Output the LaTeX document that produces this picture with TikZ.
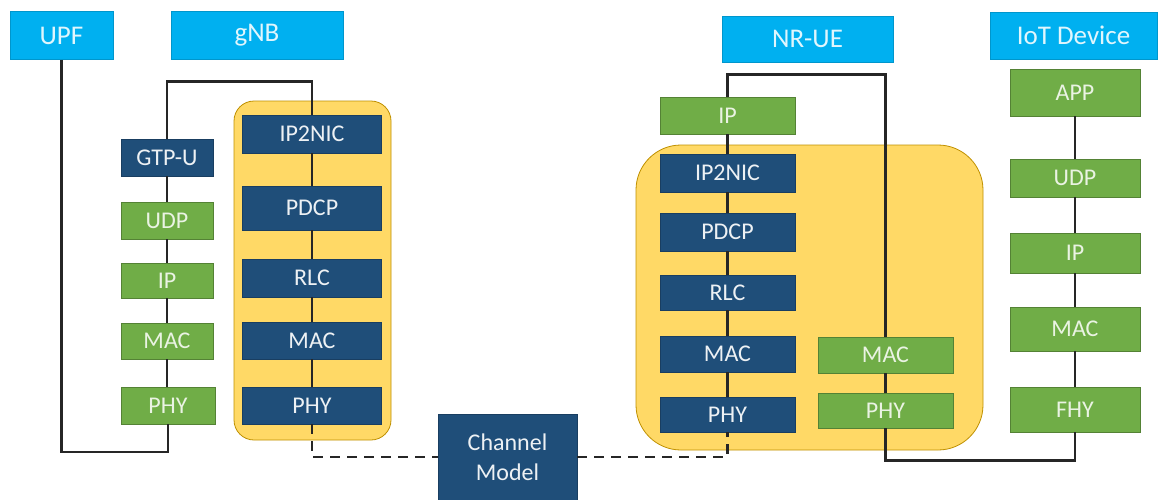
\documentclass[tikz,border=0pt]{standalone}
\usepackage{fontspec}
\setmainfont{Carlito}
\usetikzlibrary{positioning, calc}
\definecolor{skyhead}{RGB}{0,176,240}
\definecolor{navylayer}{RGB}{31,78,121}
\definecolor{greenlayer}{RGB}{112,173,71}
\definecolor{zonefill}{RGB}{255,217,102}
\definecolor{zoneline}{RGB}{191,144,0}

\begin{document}
\begin{tikzpicture}[
    x=1pt, y=-1pt,
    head/.style={draw=skyhead!85!black, line width=0.6pt, fill=skyhead, minimum height=48pt, inner sep=0pt, text=white!88!skyhead, font=\fontsize{27}{29}\selectfont},
    layer/.style={line width=0.6pt, minimum height=37pt, inner sep=0pt, font=\fontsize{24}{30}\selectfont, align=center},
    core/.style={layer, fill=navylayer, draw=navylayer!80!black, text=white!92!navylayer},
    lite/.style={layer, fill=greenlayer, draw=greenlayer!75!black, text=white!85!greenlayer},
    zone/.style={draw=zoneline, line width=0.8pt, fill=zonefill, inner sep=0pt},
    link/.style={line width=2.6pt, black!85},
    radio/.style={link, dash pattern=on 10pt off 7pt}
]
\useasboundingbox (0,0) rectangle (1160,499);

% Yellow zones
\node[zone, rounded corners=20pt, minimum width=157pt, minimum height=339pt] (gnbzone) at (312.5,270.5) {};
\node[zone, rounded corners=45pt, minimum width=347pt, minimum height=305pt] (uezone) at (809.5,297.5) {};

% Headers
\node[head, minimum width=103pt] (upf) at (61.5,35.5) {UPF};
\node[head, minimum width=172pt] (gnb) at (257,35.5) {gNB};
\node[head, minimum width=171pt, minimum height=46pt] (nrue) at (807.5,39) {NR-UE};
\node[head, minimum width=167pt, minimum height=47pt] (iot) at (1073.5,35.5) {IoT Device};

% UPF side stack
\node[core, minimum width=92pt] (gtpu) at (167,157.5) {GTP-U};
\node[lite, minimum width=92pt] (udpL) at (167,220.5) {UDP};
\node[lite, minimum width=92pt, minimum height=35pt] (ipL) at (167,280.5) {IP};
\node[lite, minimum width=92pt, minimum height=36pt] (macL) at (167,341) {MAC};
\node[lite, minimum width=94pt] (phyL) at (168,405.5) {PHY};

% gNB stack
\node[core, minimum width=139pt, minimum height=38pt] (ip2nicG) at (312,134) {IP2NIC};
\node[core, minimum width=139pt, minimum height=44pt] (pdcpG) at (312,208) {PDCP};
\node[core, minimum width=139pt, minimum height=38pt] (rlcG) at (312,278) {RLC};
\node[core, minimum width=139pt] (macG) at (312,340.5) {MAC};
\node[core, minimum width=139pt] (phyG) at (312,405.5) {PHY};

% Channel
\node[core, minimum width=139pt, minimum height=86pt] (chan) at (507.5,457) {Channel\\Model};

% NR-UE stack
\node[lite, minimum width=135pt] (ipN) at (727.5,115.5) {IP};
\node[core, minimum width=135pt, minimum height=38pt] (ip2nicN) at (727.5,173) {IP2NIC};
\node[core, minimum width=135pt, minimum height=38pt] (pdcpN) at (727.5,232) {PDCP};
\node[core, minimum width=135pt, minimum height=35pt] (rlcN) at (727.5,292.5) {RLC};
\node[core, minimum width=135pt, minimum height=36pt] (macN) at (727.5,354) {MAC};
\node[core, minimum width=135pt, minimum height=35pt] (phyN) at (727.5,414.5) {PHY};
\node[lite, minimum width=135pt, minimum height=36pt] (macN2) at (885.5,355) {MAC};
\node[lite, minimum width=135pt, minimum height=35pt] (phyN2) at (885.5,410.5) {PHY};

% IoT stack
\node[lite, minimum width=130pt, minimum height=47pt] (app) at (1075,92.5) {APP};
\node[lite, minimum width=130pt, minimum height=38pt] (udpI) at (1075,178) {UDP};
\node[lite, minimum width=130pt, minimum height=40pt] (ipI) at (1075,253) {IP};
\node[lite, minimum width=130pt, minimum height=44pt] (macI) at (1075,329) {MAC};
\node[lite, minimum width=130pt, minimum height=45pt] (fhy) at (1075,409.5) {FHY};

% Wired links
\draw[link] (upf.south) -- ++(0,392) -| (phyL.south);
\draw[link] (gtpu.north) -- ++(0,-57) -| (ip2nicG.north);
\draw[link] (gtpu.south) -- (udpL.north) (udpL.south) -- (ipL.north) (ipL.south) -- (macL.north) (macL.south) -- (phyL.north -| macL.south);
\draw[link] (ip2nicG.south) -- (pdcpG.north) (pdcpG.south) -- (rlcG.north) (rlcG.south) -- (macG.north) (macG.south) -- (phyG.north);
\draw[link] (ipN.south) -- (ip2nicN.north) (ip2nicN.south) -- (pdcpN.north) (pdcpN.south) -- (rlcN.north) (rlcN.south) -- (macN.north) (macN.south) -- (phyN.north);
\draw[link] (ipN.north) -- ++(0,-22) -| (macN2.north);
\draw[link] (macN2.south) -- (phyN2.north);
\draw[link] (phyN2.south) -- ++(0,32) -| (fhy.south);
\draw[link] (app.south) -- (udpI.north) (udpI.south) -- (ipI.north) (ipI.south) -- (macI.north) (macI.south) -- (fhy.north);

% Radio links
\draw[radio] (phyG.south) |- (chan.west);
\draw[radio] (chan.east) -| (phyN.south);
\end{tikzpicture}
\end{document}
